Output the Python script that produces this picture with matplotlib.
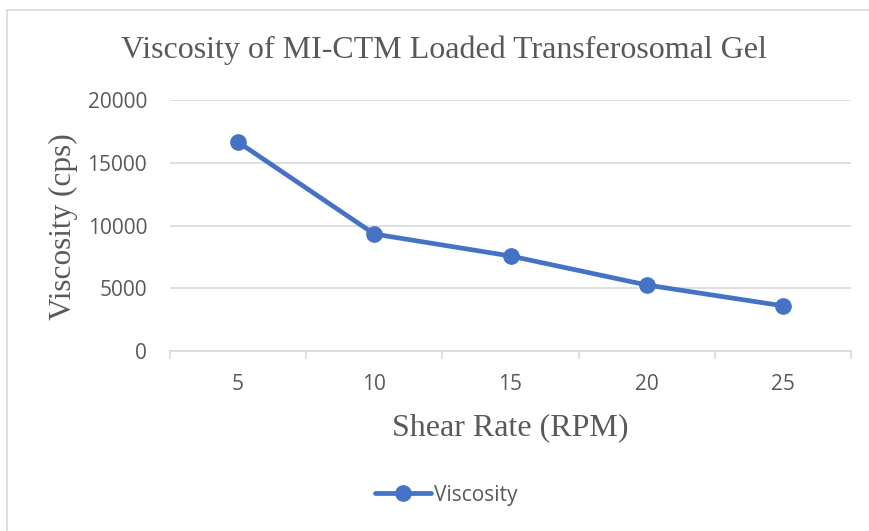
import matplotlib
matplotlib.use("Agg")
import matplotlib.pyplot as plt
from matplotlib.lines import Line2D
import numpy as np

categories = ["5", "10", "15", "20", "25"]
viscosity = [16650, 9320, 7570, 5260, 3600]
yticks = [0, 5000, 10000, 15000, 20000]

W, H = 869, 531
fig = plt.figure(figsize=(W/100, H/100), dpi=100)
# chart border (top and left visible)
fig.add_artist(Line2D([7.5/W, 1.0], [1-9.5/H, 1-9.5/H], transform=fig.transFigure,
                      color="#D9D9D9", linewidth=1.2))
fig.add_artist(Line2D([7.5/W, 7.5/W], [0.0, 1-9.5/H], transform=fig.transFigure,
                      color="#D9D9D9", linewidth=1.2))

ax = fig.add_axes([170/W, 1-351/H, 681/W, 251/H])
x = np.arange(len(categories))
ax.plot(x, viscosity, color="#4472C4", linewidth=3.4, marker="o", markersize=11,
        label="Viscosity", solid_capstyle="round")
ax.set_xlim(-0.5, len(categories)-0.5)
ax.set_ylim(0, 20000)
ax.set_yticks(yticks)
ax.set_yticklabels([str(t) for t in yticks])
ax.yaxis.grid(True, color="#D9D9D9", linewidth=1.2)
ax.set_axisbelow(True)
for s in ["top", "right", "left"]:
    ax.spines[s].set_visible(False)
ax.spines["bottom"].set_color("#D9D9D9")
ax.spines["bottom"].set_linewidth(1.2)
ax.set_xticks(x)
ax.set_xticklabels(categories)
ax.set_xticks(np.arange(-0.5, len(categories), 1.0), minor=True)
ax.tick_params(axis="x", which="major", length=0, pad=16.5, labelsize=15, labelcolor="#595959")
ax.tick_params(axis="x", which="minor", length=6, color="#D9D9D9", width=1.2)
ax.tick_params(axis="y", length=0, pad=16.5, labelsize=15, labelcolor="#595959")
for lab in ax.get_xticklabels() + ax.get_yticklabels():
    lab.set_fontfamily("Open Sans")

fig.text(443.5/W, 1-58/H, "Viscosity of MI-CTM Loaded Transferosomal Gel",
         ha="center", va="baseline", fontsize=23, color="#595959", family="Liberation Serif")
fig.text(63.5/W, 1-226.5/H, "Viscosity (cps)", rotation=90, ha="center", va="center",
         fontsize=22.5, color="#595959", family="Liberation Serif")
fig.text(510/W, 1-435/H, "Shear Rate (RPM)", ha="center", va="baseline",
         fontsize=23, color="#595959", family="Liberation Serif")

leg = fig.legend(loc="center", bbox_to_anchor=(446/W, 1-495/H), frameon=False,
                 prop={"family": "Open Sans", "size": 15}, handlelength=2.7,
                 handletextpad=0.15, borderpad=0)
for t in leg.get_texts():
    t.set_color("#595959")

fig.savefig("out.png", dpi=100)
